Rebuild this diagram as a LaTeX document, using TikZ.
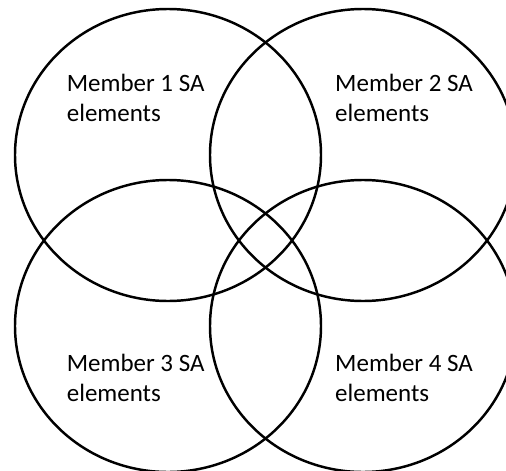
\documentclass[tikz,border=0pt]{standalone}
\usepackage{fontspec}
\setmainfont{Carlito}

\begin{document}
\begin{tikzpicture}[
  ring/.style={draw=black,line width=2.1pt},
  memtext/.style={anchor=base west,align=left,inner sep=0pt,
    font=\fontsize{21.3}{25.6}\selectfont}]
 \useasboundingbox (0,0) rectangle (15.18,14.1);
 \clip (0,0) rectangle (15.18,14.1);
 \coordinate (Cone) at (5.04,9.45);
 \coordinate (Ctwo) at (10.89,9.45);
 \coordinate (Cthree) at (5.04,4.32);
 \coordinate (Cfour) at (10.89,4.32);
 \foreach \c in {Cone,Ctwo,Cthree,Cfour}
   \draw[ring] (\c) ellipse [x radius=4.59,y radius=4.38];
 \node[memtext] (m1) at (2.0,10.45) {Member 1 SA\\elements};
 \node[memtext] (m2) at (10.05,10.45) {Member 2 SA\\elements};
 \node[memtext] (m3) at (2.0,2.05) {Member 3 SA\\elements};
 \node[memtext] (m4) at (10.05,2.05) {Member 4 SA\\elements};
\end{tikzpicture}
\end{document}
